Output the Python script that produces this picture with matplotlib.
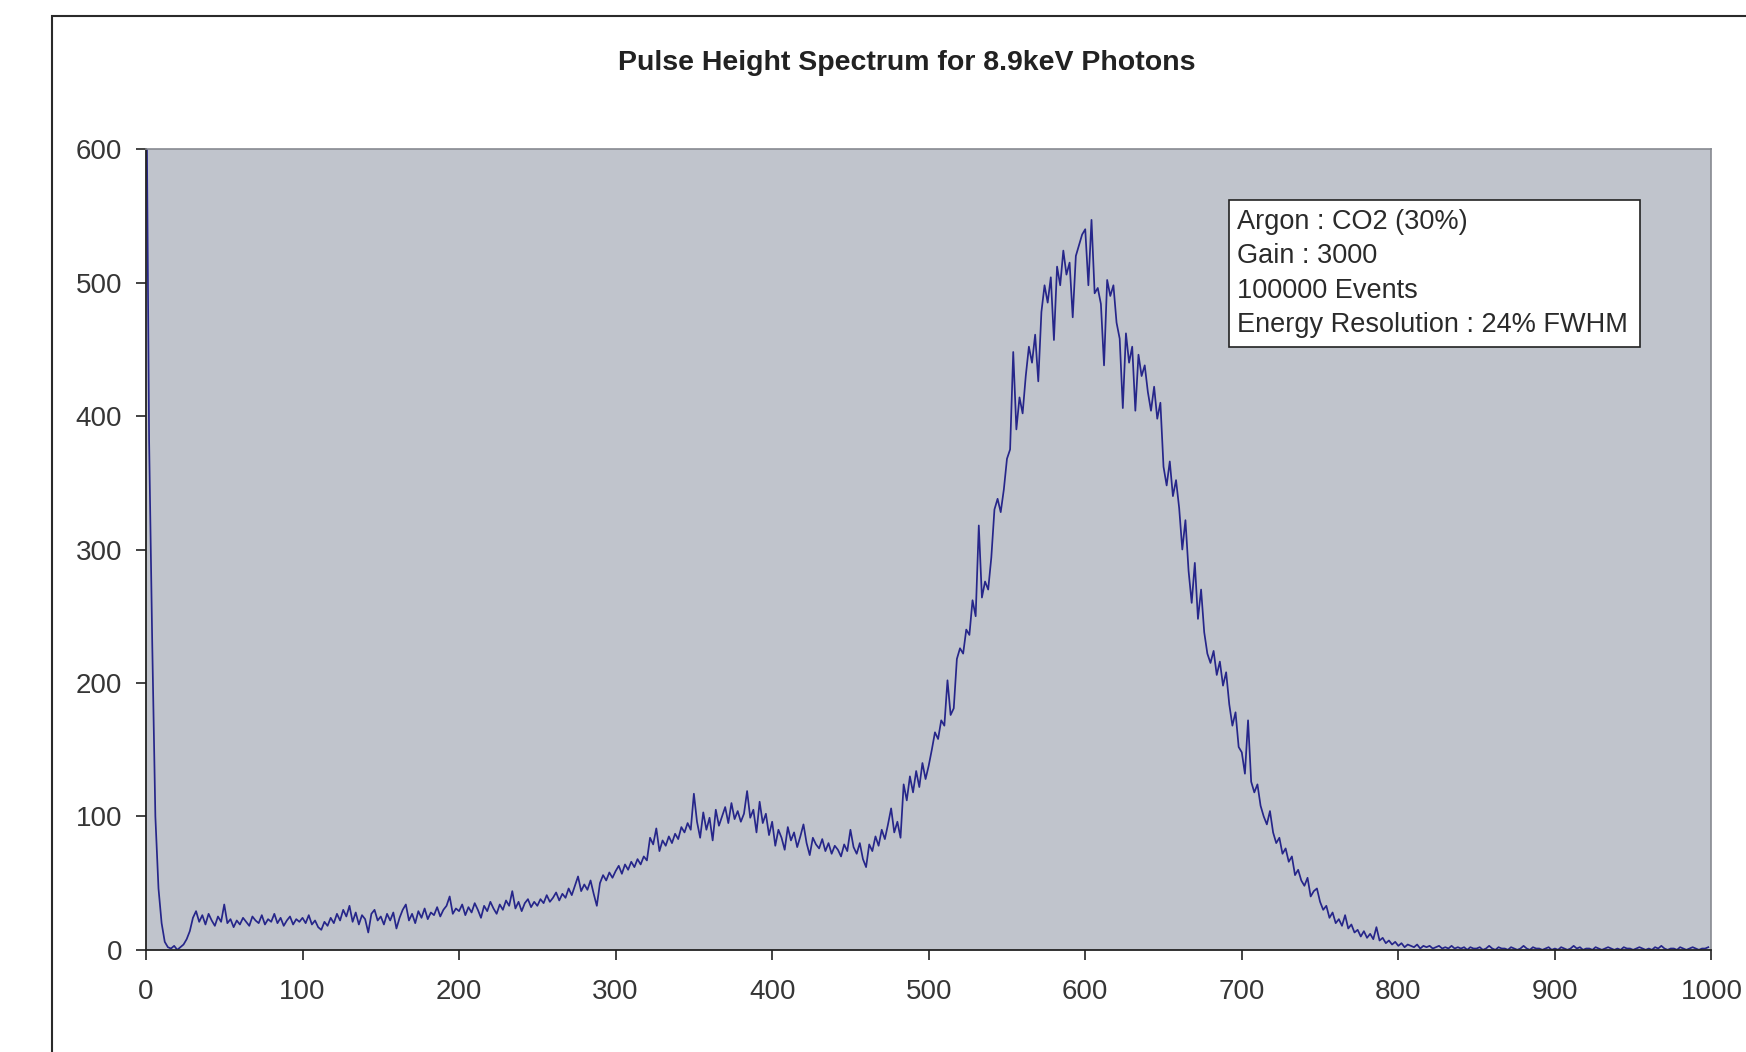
import matplotlib.pyplot as plt
from matplotlib.patches import Rectangle
import numpy as np

plt.rcParams['font.family'] = ['Liberation Sans', 'DejaVu Sans']

title = 'Pulse Height Spectrum for 8.9keV Photons'
info_lines = ['Argon : CO2 (30%)', 'Gain : 3000', '100000 Events',
              'Energy Resolution : 24% FWHM']

# counts per channel, every 2nd channel, one row = 50 channels
counts = [
    700, 382, 230, 100, 46, 20, 6, 2, 1, 3, 0, 2, 4, 8, 14, 24, 29, 21, 26, 19, 27, 22, 18, 25, 21,
    34, 20, 23, 17, 22, 19, 24, 21, 18, 25, 22, 20, 26, 19, 23, 21, 27, 20, 24, 18, 22, 25, 19, 23, 21,
    24, 20, 26, 19, 22, 17, 15, 21, 18, 24, 20, 27, 22, 30, 25, 33, 21, 28, 19, 26, 23, 13, 27, 30, 22,
    25, 19, 27, 22, 28, 16, 24, 30, 34, 22, 27, 20, 29, 24, 31, 23, 28, 26, 32, 25, 30, 33, 40, 27, 31,
    29, 34, 26, 32, 28, 35, 30, 24, 33, 29, 36, 31, 27, 34, 30, 37, 33, 44, 31, 36, 29, 35, 38, 32, 36,
    33, 38, 35, 41, 36, 39, 43, 37, 42, 39, 46, 41, 48, 55, 44, 49, 45, 52, 42, 33, 50, 56, 52, 58, 54,
    59, 63, 57, 64, 60, 66, 62, 68, 64, 70, 67, 84, 79, 91, 74, 82, 78, 85, 80, 87, 83, 92, 88, 95, 90,
    117, 96, 84, 103, 90, 99, 82, 105, 93, 100, 107, 95, 110, 98, 104, 96, 102, 119, 99, 105, 88, 111, 95, 102, 86,
    96, 78, 90, 84, 75, 92, 82, 88, 77, 85, 94, 80, 71, 84, 79, 76, 83, 74, 80, 72, 78, 75, 70, 79, 74,
    90, 77, 72, 80, 68, 62, 79, 74, 85, 78, 90, 83, 94, 106, 88, 96, 84, 124, 112, 130, 118, 134, 122, 140, 128,
    138, 150, 163, 158, 172, 168, 202, 176, 181, 218, 226, 222, 240, 236, 262, 250, 318, 264, 276, 270, 294, 330, 338, 328, 345,
    368, 375, 448, 390, 414, 402, 430, 452, 440, 461, 426, 478, 498, 485, 504, 457, 512, 498, 524, 506, 515, 474, 520, 528, 536,
    540, 498, 547, 492, 496, 484, 438, 502, 490, 498, 470, 458, 406, 462, 440, 452, 404, 446, 430, 438, 418, 404, 422, 398, 410,
    362, 348, 366, 340, 352, 331, 300, 322, 284, 260, 290, 248, 270, 238, 222, 215, 224, 206, 216, 198, 208, 184, 168, 178, 152,
    148, 132, 172, 126, 118, 124, 108, 100, 94, 104, 88, 80, 84, 72, 76, 66, 70, 56, 60, 52, 48, 54, 40, 44, 46,
    36, 30, 33, 24, 28, 20, 23, 18, 26, 16, 19, 13, 15, 10, 14, 9, 12, 8, 17, 7, 9, 5, 7, 4, 6,
    3, 5, 2, 4, 3, 2, 4, 1, 3, 2, 3, 1, 2, 3, 1, 2, 1, 3, 1, 2, 1, 2, 0, 2, 1,
    1, 2, 0, 1, 3, 1, 0, 2, 1, 1, 0, 2, 1, 0, 1, 3, 1, 0, 2, 1, 1, 0, 1, 2, 0,
    1, 0, 2, 1, 0, 1, 3, 1, 2, 0, 1, 1, 0, 2, 1, 0, 1, 2, 1, 0, 1, 0, 2, 1, 1,
    0, 1, 2, 1, 0, 1, 0, 2, 1, 3, 1, 0, 1, 1, 0, 2, 1, 0, 1, 2, 1, 0, 1, 1, 2,
]
channel = np.arange(0, 2 * len(counts), 2)

fig = plt.figure(figsize=(17.46, 10.52), dpi=100)
fig.patch.set_facecolor('white')

# chart border, runs off the right and bottom edge
fig.patches.append(Rectangle((0.0298, -0.05), 1.2, 0.9848 + 0.05,
                             transform=fig.transFigure, fill=False,
                             edgecolor='#2a2a2a', lw=1.5))

ax = fig.add_axes([0.0836, 0.0971, 0.8966, 0.7611])
ax.set_facecolor('#c0c4cc')
ax.plot(channel, counts, color='#26268a', lw=1.25)

ax.set_xlim(0, 1000)
ax.set_ylim(0, 600)
ax.set_xticks(np.arange(0, 1001, 100))
ax.set_yticks(np.arange(0, 601, 100))
ax.tick_params(axis='both', direction='out', length=7.2, width=1.2,
               labelsize=20, labelcolor='#363636', color='#222222')
ax.tick_params(axis='x', pad=14)
ax.tick_params(axis='y', pad=10)

for side in ['left', 'bottom']:
    ax.spines[side].set_color('#222222')
    ax.spines[side].set_linewidth(1.3)
for side in ['top', 'right']:
    ax.spines[side].set_color('#878a91')
    ax.spines[side].set_linewidth(1.2)

fig.text(0.5196, 0.940, title, ha='center', va='center',
         fontsize=20.5, fontweight='bold', color='#222222')

# info box, one text per line
ax.add_patch(Rectangle((0.6918, 0.7533), 0.9545 - 0.6918, 0.9366 - 0.7533,
                       transform=ax.transAxes, facecolor='white',
                       edgecolor='#222222', lw=1.2, zorder=3))
baselines = [0.8999, 0.8575, 0.8138, 0.7713]
for line, yb in zip(info_lines, baselines):
    ax.text(0.6972, yb, line, transform=ax.transAxes, ha='left',
            va='baseline', fontsize=19.5, color='#2a2a2a', zorder=4)

fig.savefig('out.png', dpi=100)
